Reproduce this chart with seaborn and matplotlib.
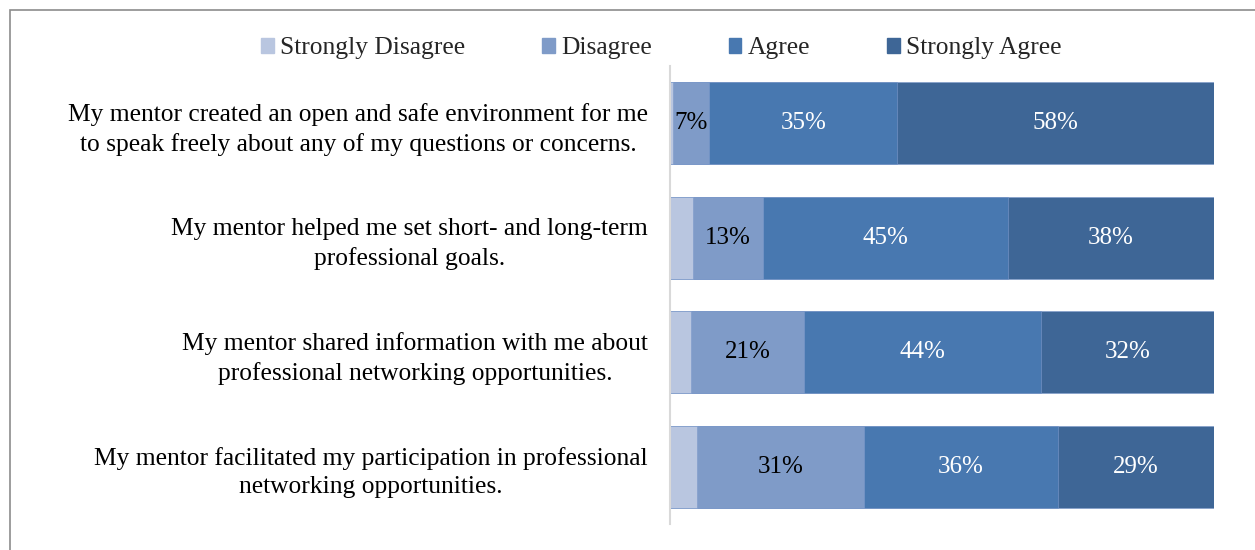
import matplotlib.pyplot as plt
import matplotlib.patches as mpatches
import seaborn as sns
import pandas as pd

# Survey responses, percent of respondents
statements = [
    "My mentor created an open and safe environment for me\nto speak freely about any of my questions or concerns.",
    "My mentor helped me set short- and long-term\nprofessional goals.",
    "My mentor shared information with me about\nprofessional networking opportunities.",
    "My mentor facilitated my participation in professional\nnetworking opportunities.",
]
levels = ["Strongly Disagree", "Disagree", "Agree", "Strongly Agree"]
strongly_disagree = [0.6, 4.2, 3.9, 5.0]
disagree = [6.6, 12.9, 20.8, 30.7]
agree = [34.6, 45.0, 43.6, 35.6]
strongly_agree = [58.2, 37.9, 31.7, 28.7]

colors = ["#B9C6E0", "#7F9BC8", "#4878B0", "#3E6696"]
label_colors = [None, "black", "white", "white"]

sns.set_style("white")
plt.rcParams["font.family"] = ["Liberation Serif", "DejaVu Serif"]

df = pd.DataFrame({"statement": statements,
                   levels[0]: strongly_disagree,
                   levels[1]: disagree,
                   levels[2]: agree,
                   levels[3]: strongly_agree})
cum = df[levels].cumsum(axis=1)

fig = plt.figure(figsize=(12.55, 5.5), dpi=100)
ax = fig.add_axes([0.534, 0.047, 0.433, 0.833])

# stacked bars: draw cumulative totals from the outside in
for lvl, col in zip(reversed(levels), reversed(colors)):
    sns.barplot(x=cum[lvl], y=df["statement"], color=col, width=0.716,
                saturation=1, orient="h", ax=ax,
                edgecolor="#7d9acb", linewidth=0.4)

for i, lvl in enumerate(levels):
    if label_colors[i] is None:
        continue
    for j in range(len(statements)):
        v = df[lvl][j]
        center = cum[lvl][j] - v / 2
        ax.text(center, j, f"{round(v):.0f}%", ha="center", va="center",
                fontsize=18, color=label_colors[i])

ax.set_xlim(0, 100)
ax.set_ylim(3.5, -0.5)
ax.set_xlabel("")
ax.set_ylabel("")
ax.set_xticks([])
ax.tick_params(axis="y", length=0, pad=16, labelsize=18.4, labelcolor="black")
for lab in ax.get_yticklabels():
    lab.set_multialignment("center")
    lab.set_linespacing(1.38)
for s in ["top", "right", "bottom"]:
    ax.spines[s].set_visible(False)
ax.spines["left"].set_color("#d9d9d9")
ax.spines["left"].set_linewidth(1.5)

handles = [mpatches.Patch(color=c, label=l) for c, l in zip(colors, levels)]
fig.legend(handles=handles, loc="center", bbox_to_anchor=(0.527, 0.912), ncol=4,
           frameon=False, fontsize=18.4, handlelength=0.5, handleheight=0.5,
           handletextpad=0.25, columnspacing=3.0)

# outer chart border
fig.patches.append(mpatches.Rectangle((0.008, -0.1), 1.2, 1.1 - 10 / 550,
                                      transform=fig.transFigure, fill=False,
                                      edgecolor="#8c8c8c", linewidth=1.2))

fig.savefig("out.png", dpi=100)
